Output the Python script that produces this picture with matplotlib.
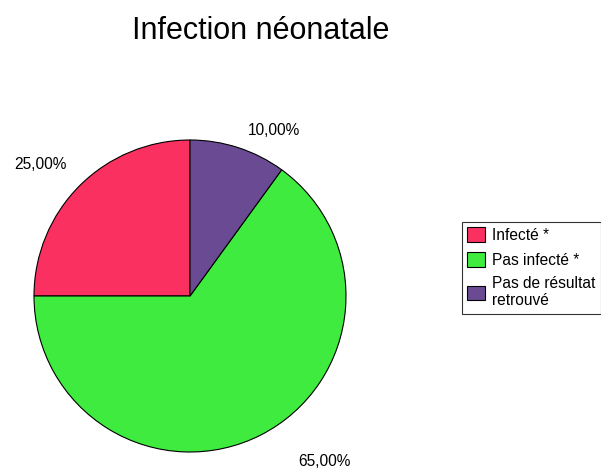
import numpy as np
import matplotlib.pyplot as plt

categories = ['Infecté *', 'Pas infecté *', 'Pas de résultat\nretrouvé']
values = [25.0, 65.0, 10.0]
colors = ['#F93060', '#3EEB3E', '#6B4A94']
# positions des étiquettes (coordonnées du camembert, rayon = 1)
label_pos = [(-0.96, 0.84), (0.86, -1.06), (0.54, 1.06)]

plt.rcParams['font.family'] = ['Liberation Sans', 'DejaVu Sans']

fig = plt.figure(figsize=(6.01, 4.68), dpi=100)
W, H = 601, 468
cx, cy, r = 190, 296, 156
ax = fig.add_axes([(cx - r) / W, (H - cy - r) / H, 2 * r / W, 2 * r / H])

wedges, _ = ax.pie(values, colors=colors, startangle=90, counterclock=True,
                   radius=1, wedgeprops=dict(edgecolor='black', linewidth=0.8))
ax.set_xlim(-1, 1)
ax.set_ylim(-1, 1)
ax.set_aspect('equal')
ax.axis('off')

for v, (x, y) in zip(values, label_pos):
    ax.text(x, y, ('%.2f' % v).replace('.', ',') + '%', ha='center', va='center',
            fontsize=11.2, clip_on=False)

fig.text(261 / W, 1 - 39 / H, 'Infection néonatale', ha='center', va='baseline', fontsize=22)

leg = fig.legend(wedges, categories, loc='upper left',
                 bbox_to_anchor=(462 / W, 1 - 222 / H), fontsize=11.2,
                 frameon=True, fancybox=False, edgecolor='black',
                 handlelength=1.15, handleheight=1.1, handletextpad=0.45,
                 labelspacing=0.55, borderpad=0.35, borderaxespad=0)
leg.get_frame().set_linewidth(0.8)

plt.savefig('out.png', dpi=100)
